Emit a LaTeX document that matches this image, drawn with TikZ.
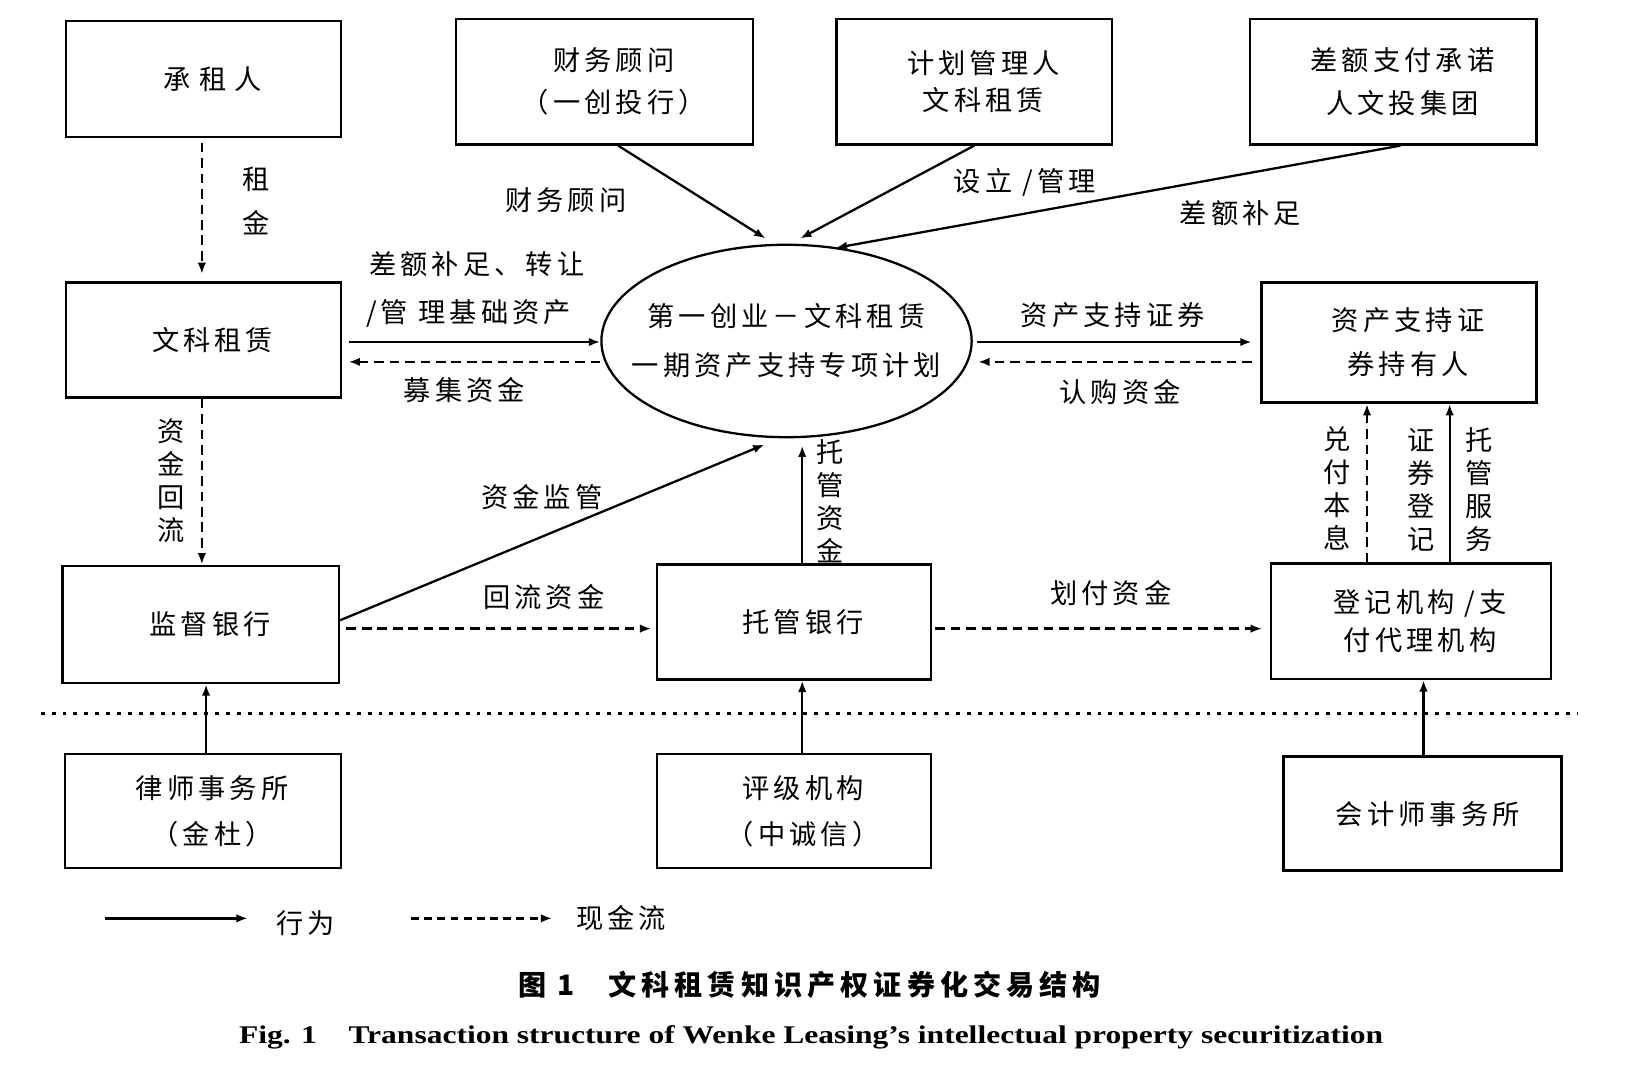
\documentclass[tikz,border=0pt]{standalone}
\usepackage{fontspec}
\setmainfont{Liberation Serif}
\newfontfamily\cjk{Noto Sans CJK SC}[LetterSpace=15]
\newfontfamily\cjkw{Noto Sans CJK SC}[LetterSpace=30]
\newfontfamily\cjkcap{Noto Sans CJK SC}[LetterSpace=18]
\usetikzlibrary{arrows.meta,shapes.geometric}
\newcommand\upx{0.020918cm}
\newcommand\lsh{\hspace*{10.5pt}}
\begin{document}
\begin{tikzpicture}[x=0.020918cm, y=-0.020918cm,
  sz/.style 2 args={minimum width=#1*\upx, minimum height=#2*\upx},
  box/.style={draw, line width=1.45pt, inner sep=0pt, align=center,
    font=\cjk\fontsize{15.5}{24}\selectfont},
  lab/.style={inner sep=0pt, align=center, font=\cjk\fontsize{15.5}{24}\selectfont},
  vlab/.style={inner sep=0pt, align=center, font=\cjk\fontsize{15.5}{18.8}\selectfont},
  act/.style={line width=1.3pt, -{Latex[length=6.5pt,width=4.8pt]}},
  cash/.style={act, dash pattern=on 5.5pt off 3.3pt},
  dotline/.style={line width=1.8pt, dash pattern=on 2.2pt off 4pt},
]
\useasboundingbox (0,0) rectangle (1568,1029);

% helper coordinates
\coordinate (cx193) at (193,0);
\coordinate (cx197) at (197,0);
\coordinate (cx591) at (591,0);
\coordinate (cx767) at (767,0);
\coordinate (cx1307) at (1307,0);
\coordinate (cx1339) at (1339,0);
\coordinate (cx1361) at (1361,0);
\coordinate (cx1386) at (1386,0);
\coordinate (cy327) at (0,327);
\coordinate (cy346) at (0,346);
\coordinate (cy593) at (0,593);
\coordinate (cy601) at (0,601);
\coordinate (e1) at (732,228);
\coordinate (e2) at (765,228);
\coordinate (e3) at (799,237);
\coordinate (e4) at (731,425);
\coordinate (e5) at (767,426);

% boxes
\node[box, sz={263}{111}, font=\cjkw\fontsize{15.5}{24}\selectfont] (zuren) at (194.5,75.5) {\lsh 承租人};
\node[box, sz={284}{120}] (caiwu) at (578,78) {\lsh 财务顾问\\\lsh （一创投行）};
\node[box, sz={263}{120}, font=\cjk\fontsize{15.5}{21.5}\selectfont] (jihua) at (931.5,78) {\lsh 计划管理人\\\lsh 文科租赁};
\node[box, sz={274}{120}] (chae) at (1332,78) {\lsh 差额支付承诺\\\lsh 人文投集团};
\node[box, sz={263}{110}] (wenke) at (194.5,325) {\lsh 文科租赁};
\node[draw, ellipse, line width=1.3pt, minimum width=354*\upx, minimum height=184*\upx,
  inner sep=0pt] (ell) at (752,326) {};
\node[inner sep=0pt, align=center, font=\cjk\fontsize{15.5}{28}\selectfont] (elltext) at (ell.center)
  {第一创业－文科租赁\\一期资产支持专项计划};
\node[box, sz={263}{115}, font=\cjk\fontsize{15.5}{25}\selectfont] (holder) at (1337.5,327.5) {\lsh 资产支持证\\\lsh 券持有人};
\node[box, sz={264}{112}] (jiandu) at (192,597) {\lsh 监督银行};
\node[box, sz={262}{110}] (tuoguan) at (759,594.5) {\lsh 托管银行};
\node[box, sz={268}{110}, font=\cjk\fontsize{15.5}{22}\selectfont] (dengji) at (1349,594) {\lsh 登记机构 /支\\\lsh 付代理机构};
\node[box, sz={264}{109}, font=\cjk\fontsize{15.5}{26}\selectfont] (lawyer) at (194,775.5) {\lsh 律师事务所\\\lsh （金杜）};
\node[box, sz={262}{109}, font=\cjk\fontsize{15.5}{26}\selectfont] (rating) at (759,775.5) {\lsh 评级机构\\\lsh （中诚信）};
\node[box, sz={266}{109}] (acc) at (1360,778) {\hspace*{6pt}会计师事务所};

% labels
\node[vlab, font=\cjk\fontsize{15.5}{25}\selectfont] (lzujin) at (245,192) {租\\金};
\node[lab] (lcw) at (541,191) {财务顾问};
\node[lab] (lsl) at (980,174) {设立 /管理};
\node[lab] (lce) at (1186,204) {差额补足};
\node[lab] (lzr1) at (456,253) {差额补足、转让};
\node[lab] (lzr2) at (448,300) {/管 理基础资产};
\node[lab] (lmj) at (444,373) {募集资金};
\node[lab] (lzc) at (1064,301) {资产支持证券};
\node[lab] (lrg) at (1071,375) {认购资金};
\node[vlab] (lhl) at (164,459.5) {资\\金\\回\\流};
\node[lab] (ljg) at (518,475) {资金监管};
\node[lab] (lhl2) at (520,571) {回流资金};
\node[vlab] (ltg) at (794,479) {托\\管\\资\\金};
\node[lab] (lhf) at (1062,567) {划付资金};
\node[vlab] (ldf) at (1278,467) {兑\\付\\本\\息};
\node[vlab] (lzj) at (1359,468) {证\\券\\登\\记};
\node[vlab] (ltf) at (1414,468) {托\\管\\服\\务};

% connectors
\draw[cash, shorten <=2.5pt, shorten >=4pt] (cx193 |- zuren.south) -- (cx193 |- wenke.north);
\draw[act] (cx591 |- caiwu.south) -- (e1);
\draw[act] (jihua.south) -- (e2);
\draw[act] (cx1339 |- chae.south) -- (e3);
\draw[act, shorten <=3.6pt] (wenke.east |- cy327) -- (ell.west |- cy327);
\draw[cash, shorten >=3.6pt] (ell.west |- cy346) -- (wenke.east |- cy346);
\draw[act, shorten <=2.4pt, shorten >=4.8pt] (ell.east |- cy327) -- (holder.west |- cy327);
\draw[cash, shorten <=4.8pt, shorten >=3pt] (holder.west |- cy346) -- (ell.east |- cy346);
\draw[cash] (cx193 |- wenke.south) -- (cx193 |- jiandu.north);
\draw[act] (jiandu.east |- cy593) -- (e4);
\draw[cash, shorten <=3.6pt, shorten >=2.4pt] (jiandu.east |- cy601) -- (tuoguan.west |- cy601);
\draw[act] (cx767 |- tuoguan.north) -- (e5);
\draw[cash, shorten <=1.8pt, shorten >=4.2pt] (tuoguan.east |- cy601) -- (dengji.west |- cy601);
\draw[cash] (cx1307 |- dengji.north) -- (cx1307 |- holder.south);
\draw[act] (cx1386 |- dengji.north) -- (cx1386 |- holder.south);
\draw[act] (cx197 |- lawyer.north) -- (cx197 |- jiandu.south);
\draw[act] (cx767 |- rating.north) -- (cx767 |- tuoguan.south);
\draw[act] (cx1361 |- acc.north) -- (cx1361 |- dengji.south);

% dotted separator
\draw[dotline] (39,682) -- (1509,682);

% legend
\coordinate (la1) at (100,878);
\coordinate (la2) at (237,878);
\coordinate (lb1) at (393,878);
\coordinate (lb2) at (528,878);
\draw[act, line width=1.7pt] (la1) -- (la2);
\node[lab] (lx) at (292,883) {行为};
\draw[act, line width=1.7pt, dash pattern=on 4.5pt off 3pt] (lb1) -- (lb2);
\node[lab] (lxj) at (594,878) {现金流};

% captions
\node[inner sep=0pt, font=\cjkcap\bfseries\fontsize{16}{18}\selectfont] (cap1) at (774,942)
  {图 1\hspace{1.2em}文科租赁知识产权证券化交易结构};
\node[inner sep=0pt] (cap2) at (775.5,992)
  {\resizebox{651pt}{10.2pt}{\bfseries Fig. 1\quad Transaction structure of Wenke Leasing’s intellectual property securitization}};
\end{tikzpicture}
\end{document}
